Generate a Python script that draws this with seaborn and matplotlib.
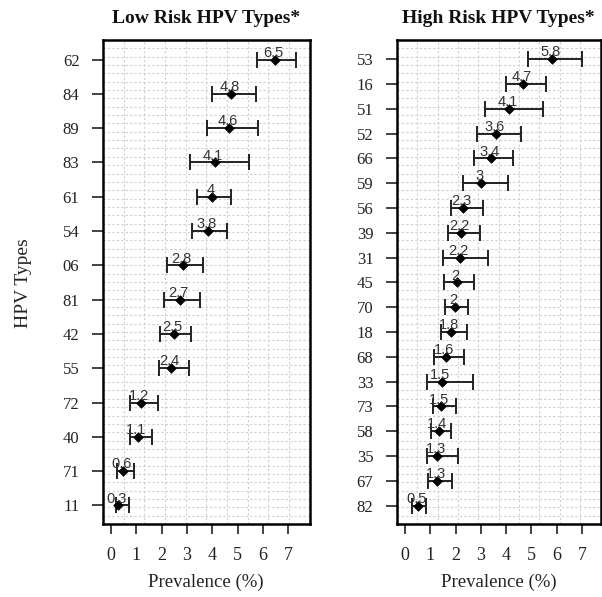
import numpy as np
import pandas as pd
import matplotlib
matplotlib.use("Agg")
import matplotlib.pyplot as plt
import seaborn as sns

sns.set_theme(style="white")
plt.rcParams['font.family'] = ['Liberation Serif', 'DejaVu Serif']

# ---- data ----
low_types = ["62", "84", "89", "83", "61", "54", "06", "81", "42", "55", "72", "40", "71", "11"]
low_prev = [6.47, 4.75, 4.66, 4.09, 4.0, 3.83, 2.83, 2.73, 2.49, 2.37, 1.17, 1.06, 0.49, 0.3]
low_lo = [5.77, 3.98, 3.77, 3.11, 3.41, 3.2, 2.22, 2.11, 1.94, 1.9, 0.75, 0.75, 0.25, 0.22]
low_hi = [7.31, 5.73, 5.8, 5.43, 4.74, 4.57, 3.62, 3.5, 3.15, 3.08, 1.85, 1.61, 0.9, 0.7]
low_lab = ["6.5", "4.8", "4.6", "4.1", "4", "3.8", "2.8", "2.7", "2.5", "2.4", "1.2", "1.1", "0.6", "0.3"]

high_types = ["53", "16", "51", "52", "66", "59", "56", "39", "31", "45", "70", "18", "68", "33",
              "73", "58", "35", "67", "82"]
high_prev = [5.82, 4.68, 4.11, 3.6, 3.4, 3.0, 2.29, 2.23, 2.17, 2.04, 1.99, 1.8, 1.62, 1.46,
             1.42, 1.33, 1.28, 1.28, 0.53]
high_lo = [4.85, 3.99, 3.15, 2.83, 2.73, 2.28, 1.82, 1.71, 1.5, 1.55, 1.59, 1.41, 1.16, 0.86,
           1.12, 1.03, 0.86, 0.92, 0.29]
high_hi = [7.0, 5.56, 5.45, 4.6, 4.26, 4.08, 3.08, 2.96, 3.28, 2.71, 2.49, 2.46, 2.33, 2.68,
           2.02, 1.82, 2.08, 1.86, 0.82]
high_lab = ["5.8", "4.7", "4.1", "3.6", "3.4", "3", "2.3", "2.2", "2.2", "2", "2", "1.8", "1.6",
            "1.5", "1.5", "1.4", "1.3", "1.3", "0.5"]

x_ticks = [0, 1, 2, 3, 4, 5, 6, 7]

fig = plt.figure(figsize=(6.02, 5.97), dpi=100)
W, H = 602, 597
ax1 = fig.add_axes([103 / W, (H - 524) / H, (309.5 - 103) / W, 484 / H])
ax2 = fig.add_axes([397 / W, (H - 524) / H, (600.5 - 397) / W, 484 / H])


def panel(ax, types, prev, lo, hi, lab, title, xlim):
    n = len(types)
    ypos = np.arange(n)[::-1]
    df = pd.DataFrame({"type": types, "prev": prev, "lo": lo, "hi": hi, "y": ypos})
    ax.set_xlim(*xlim)
    ax.set_ylim(-0.04 * (n - 1) - 0.02, (n - 1) * 1.04 + 0.05)
    # grid: 10 x 58 equal cells, dotted
    x0, x1 = ax.get_xlim()
    y0, y1 = ax.get_ylim()
    for gx in np.linspace(x0, x1, 11)[1:-1]:
        ax.axvline(gx, color="#cfcfcf", lw=0.8, ls=(0, (2, 2)), zorder=0)
    for gy in np.linspace(y0, y1, 59)[1:-1]:
        ax.axhline(gy, color="#cfcfcf", lw=0.8, ls=(0, (2, 2)), zorder=0)
    ax.errorbar(df["prev"], df["y"],
                xerr=[df["prev"] - df["lo"], df["hi"] - df["prev"]],
                fmt="none", ecolor="#222222", elinewidth=1.4, capsize=6, capthick=1.4, zorder=2)
    sns.scatterplot(data=df, x="prev", y="y", ax=ax, marker="D", s=24, color="black",
                    edgecolor="black", linewidth=0.5, zorder=3, legend=False)
    for xv, yv, t in zip(df["prev"], df["y"], lab):
        ax.annotate(t, (xv, yv), xytext=(-1.2, 2.0), textcoords="offset points",
                    ha="center", va="baseline", fontsize=10.5, color="#333333",
                    family=["Liberation Sans", "DejaVu Sans"], zorder=4)
    ax.set_yticks(ypos)
    ax.set_yticklabels(types)
    ax.set_xticks(x_ticks)
    ax.set_xticklabels([str(v) for v in x_ticks])
    ax.tick_params(axis="both", width=1.2, color="#222222",
                   labelcolor="#222222", direction="out", bottom=True, left=True)
    ax.tick_params(axis="x", length=7.5, pad=9, labelsize=13)
    ax.tick_params(axis="y", length=8, pad=9, labelsize=12)
    for s in ax.spines.values():
        s.set_linewidth(1.8)
        s.set_color("black")
    ax.set_xlabel("Prevalence (%)", fontsize=13.5, color="#222222", labelpad=7)
    ax.set_ylabel("")
    ax.set_title(title, fontsize=14, fontweight="bold", pad=12.5, color="#111111")


panel(ax1, low_types, low_prev, low_lo, low_hi, low_lab, "Low Risk HPV Types*", (-0.31, 7.83))
panel(ax2, high_types, high_prev, high_lo, high_hi, high_lab, "High Risk HPV Types*", (-0.32, 7.73))

fig.text(24 / W, 1 - 283 / H, "HPV Types", rotation=90, ha="center", va="center",
         fontsize=14, color="#222222")

fig.savefig("out.png", dpi=100)
